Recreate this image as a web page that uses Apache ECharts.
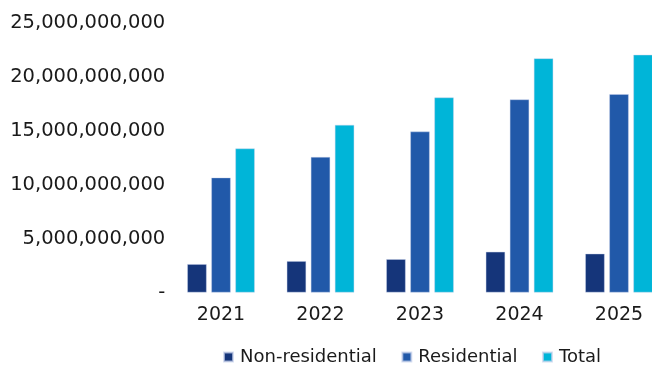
<!DOCTYPE html>
<html>
<head>
<meta charset="utf-8">
<script src="https://cdn.jsdelivr.net/npm/echarts@6/dist/echarts.min.js"></script>
<style>
  html, body { margin: 0; padding: 0; background: #fff; }
  #chart { width: 652px; height: 365px; }
</style>
</head>
<body>
<div id="chart"></div>
<script>
// Years on the category axis
const years = ['2021', '2022', '2023', '2024', '2025'];

// Values per year
const nonResidential = [2.63e9, 2.91e9, 3.09e9, 3.78e9, 3.60e9];
const residential = [10.66e9, 12.57e9, 14.93e9, 17.91e9, 18.40e9];
const total = [13.36e9, 15.55e9, 18.09e9, 21.72e9, 22.05e9];

// Value axis ticks
const yTicks = [0, 5e9, 10e9, 15e9, 20e9, 25e9];

const FONT = '"DejaVu Sans", sans-serif';

const chart = echarts.init(document.getElementById('chart'), null, { renderer: 'canvas' });

function fmt(v) {
  if (v === 0) return '-';
  return Math.round(v).toLocaleString('en-US');
}

const barCommon = {
  type: 'bar',
  barWidth: 19.4,
  barGap: '24%'
};
const edge = { borderColor: 'rgba(200,210,235,0.7)', borderWidth: 0.6 };

chart.setOption({
  animation: false,
  grid: {
    left: 171.25, right: -16.75, top: 23, bottom: 72.5,
    containLabel: false, outerBoundsMode: 'none'
  },
  legend: {
    bottom: -6,
    left: 218,
    itemWidth: 9,
    itemHeight: 9,
    itemGap: 24.5,
    icon: 'rect',
    textStyle: { fontFamily: FONT, fontSize: 18, color: '#1a1a1a', padding: [0, 0, 0, 2] },
    data: ['Non-residential', 'Residential', 'Total']
  },
  xAxis: {
    type: 'category',
    data: years,
    axisLine: { show: false },
    axisTick: { show: false },
    axisLabel: { fontFamily: FONT, fontSize: 19, color: '#1a1a1a', margin: 13 }
  },
  yAxis: {
    type: 'value',
    min: yTicks[0],
    max: yTicks[yTicks.length - 1],
    interval: yTicks[1] - yTicks[0],
    splitLine: { show: false },
    axisLine: { show: false },
    axisTick: { show: false },
    axisLabel: {
      fontFamily: FONT, fontSize: 19.5, color: '#1a1a1a', margin: 6,
      formatter: fmt
    }
  },
  series: [
    Object.assign({}, barCommon, { name: 'Non-residential', data: nonResidential, itemStyle: Object.assign({ color: '#15357a' }, edge) }),
    Object.assign({}, barCommon, { name: 'Residential', data: residential, itemStyle: Object.assign({ color: '#2159a9' }, edge) }),
    Object.assign({}, barCommon, { name: 'Total', data: total, itemStyle: Object.assign({ color: '#00b5d8' }, edge) })
  ]
});
</script>
</body>
</html>
